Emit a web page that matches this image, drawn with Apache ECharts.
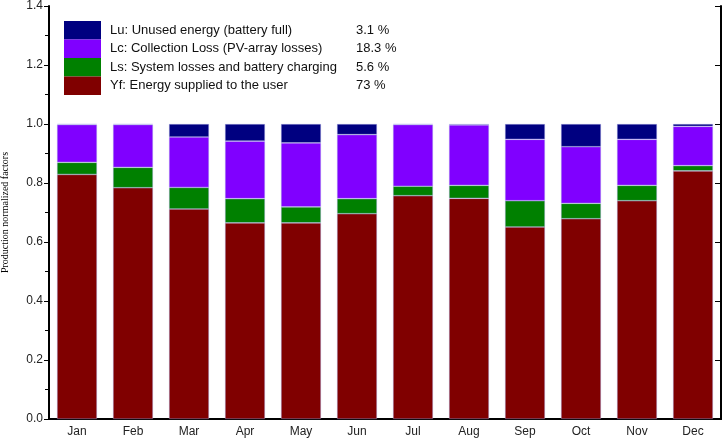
<!DOCTYPE html>
<html><head><meta charset="utf-8">
<script src="https://cdn.jsdelivr.net/npm/echarts@6/dist/echarts.min.js"></script>
<style>html,body{margin:0;padding:0;background:#fff}#c{width:724px;height:440px}</style>
</head><body><div id="c"></div>
<script>
var months = ['Jan','Feb','Mar','Apr','May','Jun','Jul','Aug','Sep','Oct','Nov','Dec'];
var yf = [0.829,0.784,0.712,0.665,0.665,0.696,0.757,0.748,0.651,0.679,0.740,0.841];
var ls = [0.041,0.069,0.073,0.082,0.054,0.051,0.032,0.044,0.089,0.052,0.052,0.018];
var lc = [0.128,0.145,0.171,0.195,0.217,0.217,0.209,0.205,0.208,0.192,0.156,0.133];
var lu = [0.002,0.002,0.044,0.058,0.064,0.036,0.002,0.003,0.052,0.077,0.052,0.008];
var names = ['Lu: Unused energy (battery full)','Lc: Collection Loss (PV-array losses)','Ls: System losses and battery charging','Yf: Energy supplied to the user'];
var pcts = ['3.1 %','18.3 %','5.6 %','73 %'];
var colors = {lu:'#000080', lc:'#8000ff', ls:'#008000', yf:'#800000'};

var chart = echarts.init(document.getElementById('c'));
function bar(name, data, color){
  return {name:name, type:'bar', stack:'t', data:data, barWidth:40,
    itemStyle:{color:color, borderColor:'rgba(170,170,230,0.7)', borderWidth:0.6}};
}
var txt = {fontFamily:'Liberation Sans, Arial', fontSize:12, color:'#222'};
chart.setOption({
  animation:false,
  grid:{left:49, right:3, top:6, bottom:21, outerBoundsMode:'none', containLabel:false},
  legend:{
    data:[names[0],names[1],names[2],names[3]],
    orient:'vertical', left:64, top:21, padding:0, itemWidth:37, itemHeight:18.5, itemGap:0,
    icon:'rect', selectedMode:false,
    itemStyle:{borderWidth:0},
    formatter:function(n){return '{n|'+n+'}{p|'+pcts[names.indexOf(n)]+'}';},
    textStyle:{fontFamily:'Liberation Sans, Arial', fontSize:13, color:'#111', lineHeight:18.5,
      rich:{n:{width:246, padding:[0,0,0,4], lineHeight:18.5, fontFamily:'Liberation Sans, Arial', fontSize:13, color:'#111'},
            p:{lineHeight:18.5, fontFamily:'Liberation Sans, Arial', fontSize:13, color:'#111'}}}
  },
  xAxis:[
    {type:'category', data:months, position:'bottom',
     axisLine:{lineStyle:{color:'#000', width:2}},
     axisTick:{inside:true, length:8, lineStyle:{color:'#000'}},
     axisLabel:Object.assign({margin:7}, txt)},
    {type:'category', data:months, position:'top',
     axisLine:{lineStyle:{color:'#000', width:2}},
     axisTick:{inside:true, length:6, lineStyle:{color:'#000'}},
     axisLabel:{show:false}}
  ],
  yAxis:[
    {type:'value', min:0, max:1.4, interval:0.2, position:'left',
     name:'Production normalized factors', nameLocation:'middle', nameGap:39,
     nameTextStyle:{fontFamily:'Liberation Serif, Times New Roman', fontSize:10, color:'#000'},
     axisLine:{show:true, lineStyle:{color:'#000', width:2}},
     axisTick:{show:true, length:5, lineStyle:{color:'#000'}},
     minorTick:{show:true, splitNumber:2, length:4, lineStyle:{color:'#000'}},
     splitLine:{show:false},
     axisLabel:Object.assign({margin:6, formatter:function(v){return v.toFixed(1);}}, txt)},
    {type:'value', min:0, max:1.4, interval:0.2, position:'right',
     axisLine:{show:true, lineStyle:{color:'#000', width:2}},
     axisTick:{show:true, inside:true, length:6, lineStyle:{color:'#000'}},
     splitLine:{show:false}, axisLabel:{show:false}}
  ],
  series:[
    bar(names[3], yf, colors.yf),
    bar(names[2], ls, colors.ls),
    bar(names[1], lc, colors.lc),
    bar(names[0], lu, colors.lu)
  ]
});
</script></body></html>
